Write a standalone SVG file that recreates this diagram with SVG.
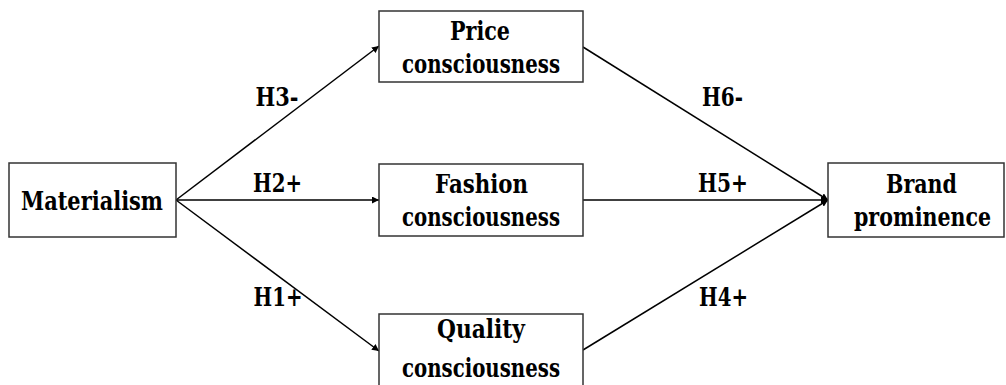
<svg xmlns="http://www.w3.org/2000/svg" width="1006" height="385" viewBox="0 0 1006 385">
<style>
.box{fill:#fff;stroke:#333;stroke-width:1.5}
text{font-family:'DejaVu Serif',serif;font-weight:700;font-size:26px;fill:#000;text-anchor:middle}
.c{stroke:#000;stroke-width:1.5;fill:none;marker-end:url(#ah)}
</style>
<defs>
<marker id="ah" viewBox="0 0 10 10" refX="10" refY="5" markerWidth="7" markerHeight="7" orient="auto" markerUnits="userSpaceOnUse">
<path d="M0,0 L10,5 L0,10 z" fill="#000"/>
</marker>
</defs>
<g id="connectors">
<line class="c" x1="176" y1="200" x2="379" y2="46"/>
<line class="c" x1="176" y1="200" x2="379" y2="200"/>
<line class="c" x1="176" y1="200" x2="379" y2="351"/>
<line class="c" x1="583" y1="47" x2="828" y2="200"/>
<line class="c" x1="583" y1="200" x2="828" y2="200"/>
<line class="c" x1="583" y1="350" x2="828" y2="200"/>
<text x="277" y="106" textLength="43" lengthAdjust="spacingAndGlyphs">H3-</text>
<text x="277.5" y="192" textLength="49" lengthAdjust="spacingAndGlyphs">H2+</text>
<text x="278" y="306" textLength="49" lengthAdjust="spacingAndGlyphs">H1+</text>
<text x="722.5" y="106" textLength="41" lengthAdjust="spacingAndGlyphs">H6-</text>
<text x="723" y="192" textLength="50" lengthAdjust="spacingAndGlyphs">H5+</text>
<text x="723.5" y="306" textLength="49" lengthAdjust="spacingAndGlyphs">H4+</text>
</g>
<g id="materialism">
<rect class="box" x="9" y="163" width="167" height="74"/>
<text x="92" y="210" textLength="142" lengthAdjust="spacingAndGlyphs">Materialism</text>
</g>
<g id="price">
<rect class="box" x="379" y="11" width="204" height="71"/>
<text x="480" y="40" textLength="60" lengthAdjust="spacingAndGlyphs">Price</text>
<text x="481" y="73" textLength="158" lengthAdjust="spacingAndGlyphs">consciousness</text>
</g>
<g id="fashion">
<rect class="box" x="379" y="164" width="204" height="72"/>
<text x="481.5" y="193" textLength="93" lengthAdjust="spacingAndGlyphs">Fashion</text>
<text x="481" y="226" textLength="158" lengthAdjust="spacingAndGlyphs">consciousness</text>
</g>
<g id="quality">
<rect class="box" x="379" y="314" width="204" height="80"/>
<text x="481" y="338" textLength="88" lengthAdjust="spacingAndGlyphs">Quality</text>
<text x="481" y="377" textLength="158" lengthAdjust="spacingAndGlyphs">consciousness</text>
</g>
<g id="brand">
<rect class="box" x="828" y="163" width="176" height="74"/>
<text x="921.5" y="193" textLength="71" lengthAdjust="spacingAndGlyphs">Brand</text>
<text x="922.5" y="226" textLength="137" lengthAdjust="spacingAndGlyphs">prominence</text>
</g>
</svg>
